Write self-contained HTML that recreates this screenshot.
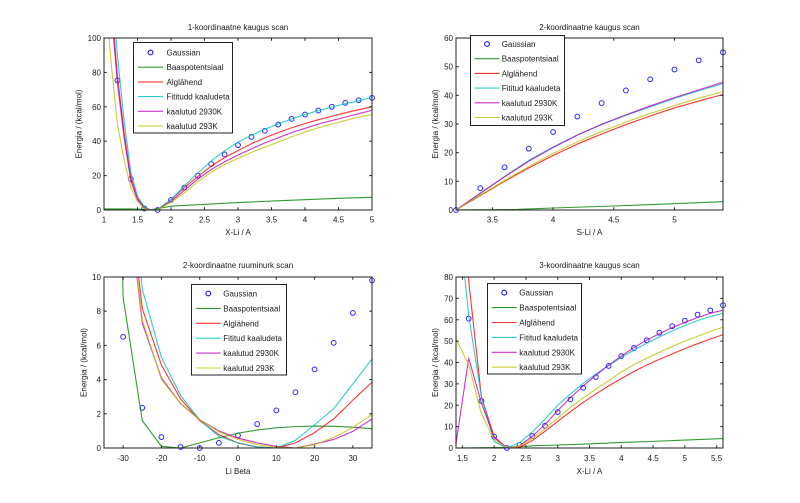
<!DOCTYPE html>
<html><head><meta charset="utf-8">
<style>
html,body{margin:0;padding:0;background:#fff;}
svg{display:block;}
text{font-family:"Liberation Sans",Arial,sans-serif;font-size:8px;fill:#1a1a1a;}
</style></head>
<body>
<svg id="s" width="800" height="503" viewBox="0 0 800 503" xmlns="http://www.w3.org/2000/svg">
<defs>
<clipPath id="c1"><rect x="104" y="38" width="268" height="172"/></clipPath>
<clipPath id="c2"><rect x="456" y="38" width="267" height="172"/></clipPath>
<clipPath id="c3"><rect x="104" y="277" width="268" height="171"/></clipPath>
<clipPath id="c4"><rect x="456" y="277" width="267" height="171"/></clipPath>
</defs>
<rect x="0" y="0" width="800" height="503" fill="#fff"/>
<g id="data"></g>

<!-- Plot 1 text -->
<text x="238" y="30" text-anchor="middle">1-koordinaatne kaugus scan</text>
<text x="238" y="235" text-anchor="middle">X-Li / A</text>
<text transform="translate(81.5,124) rotate(-90)" text-anchor="middle">Energia / (kcal/mol)</text>
<g text-anchor="middle">
<text x="104" y="222.5">1</text><text x="137.5" y="222.5">1.5</text><text x="171" y="222.5">2</text><text x="204.5" y="222.5">2.5</text><text x="238" y="222.5">3</text><text x="271.5" y="222.5">3.5</text><text x="305" y="222.5">4</text><text x="338.5" y="222.5">4.5</text><text x="372" y="222.5">5</text>
</g>
<g text-anchor="end">
<text x="101" y="213">0</text><text x="101" y="178.6">20</text><text x="101" y="144.2">40</text><text x="101" y="109.8">60</text><text x="101" y="75.4">80</text><text x="101" y="41">100</text>
</g>

<!-- Plot 2 text -->
<text x="589.5" y="30" text-anchor="middle">2-koordinaatne kaugus scan</text>
<text x="589.5" y="235" text-anchor="middle">S-Li / A</text>
<text transform="translate(438,124) rotate(-90)" text-anchor="middle">Energia / (kcal/mol)</text>
<g text-anchor="middle">
<text x="492.4" y="222.5">3.5</text><text x="553.1" y="222.5">4</text><text x="613.8" y="222.5">4.5</text><text x="674.5" y="222.5">5</text>
</g>
<g text-anchor="end">
<text x="453" y="213">0</text><text x="453" y="184.3">10</text><text x="453" y="155.7">20</text><text x="453" y="127">30</text><text x="453" y="98.3">40</text><text x="453" y="69.7">50</text><text x="453" y="41">60</text>
</g>

<!-- Plot 3 text -->
<text x="238" y="268" text-anchor="middle">2-koordinaatne ruuminurk scan</text>
<text x="238" y="474" text-anchor="middle">Li Beta</text>
<text transform="translate(86.5,362.5) rotate(-90)" text-anchor="middle">Energia / (kcal/mol)</text>
<g text-anchor="middle">
<text x="123.1" y="460.8">-30</text><text x="161.4" y="460.8">-20</text><text x="199.7" y="460.8">-10</text><text x="238" y="460.8">0</text><text x="276.3" y="460.8">10</text><text x="314.6" y="460.8">20</text><text x="352.9" y="460.8">30</text>
</g>
<g text-anchor="end">
<text x="101" y="451">0</text><text x="101" y="416.8">2</text><text x="101" y="382.6">4</text><text x="101" y="348.4">6</text><text x="101" y="314.2">8</text><text x="101" y="280">10</text>
</g>

<!-- Plot 4 text -->
<text x="589.5" y="268" text-anchor="middle">3-koordinaatne kaugus scan</text>
<text x="589.5" y="474" text-anchor="middle">X-Li / A</text>
<text transform="translate(438,362.5) rotate(-90)" text-anchor="middle">Energia / (kcal/mol)</text>
<g text-anchor="middle">
<text x="462.4" y="460.8">1.5</text><text x="494.1" y="460.8">2</text><text x="525.9" y="460.8">2.5</text><text x="557.7" y="460.8">3</text><text x="589.5" y="460.8">3.5</text><text x="621.3" y="460.8">4</text><text x="653.1" y="460.8">4.5</text><text x="684.9" y="460.8">5</text><text x="716.6" y="460.8">5.5</text>
</g>
<g text-anchor="end">
<text x="453" y="451">0</text><text x="453" y="429.6">10</text><text x="453" y="408.3">20</text><text x="453" y="386.9">30</text><text x="453" y="365.5">40</text><text x="453" y="344.1">50</text><text x="453" y="322.8">60</text><text x="453" y="301.4">70</text><text x="453" y="280">80</text>
</g>

<!-- Legends -->
<g id="leg1">
<rect x="133.5" y="42.5" width="99" height="90.5" fill="#fff" stroke="#222" stroke-width="1"/>
<circle cx="150.5" cy="52.5" r="2.4" fill="none" stroke="#0000ff" stroke-width="1"/>
<line x1="138" y1="67.2" x2="163" y2="67.2" stroke="#008000" stroke-width="1.1" stroke-opacity="0.8"/>
<line x1="138" y1="81.9" x2="163" y2="81.9" stroke="#ff0000" stroke-width="1.1" stroke-opacity="0.8"/>
<line x1="138" y1="96.6" x2="163" y2="96.6" stroke="#00bfbf" stroke-width="1.1" stroke-opacity="0.8"/>
<line x1="138" y1="111.3" x2="163" y2="111.3" stroke="#bf00bf" stroke-width="1.1" stroke-opacity="0.8"/>
<line x1="138" y1="126" x2="163" y2="126" stroke="#bfbf00" stroke-width="1.1" stroke-opacity="0.8"/>
<text x="166.5" y="55.5">Gaussian</text>
<text x="166.5" y="70.2">Baaspotentsiaal</text>
<text x="166.5" y="84.9">Alglähend</text>
<text x="166.5" y="99.6">Fititudd kaaludeta</text>
<text x="166.5" y="114.3">kaalutud 2930K</text>
<text x="166.5" y="129">kaalutud 293K</text>
</g>
<g id="leg2">
<rect x="470.5" y="35.5" width="94" height="90" fill="#fff" stroke="#222" stroke-width="1"/>
<circle cx="487" cy="44" r="2.4" fill="none" stroke="#0000ff" stroke-width="1"/>
<line x1="474.5" y1="58.7" x2="499.5" y2="58.7" stroke="#008000" stroke-width="1.1" stroke-opacity="0.8"/>
<line x1="474.5" y1="73.4" x2="499.5" y2="73.4" stroke="#ff0000" stroke-width="1.1" stroke-opacity="0.8"/>
<line x1="474.5" y1="88.1" x2="499.5" y2="88.1" stroke="#00bfbf" stroke-width="1.1" stroke-opacity="0.8"/>
<line x1="474.5" y1="102.8" x2="499.5" y2="102.8" stroke="#bf00bf" stroke-width="1.1" stroke-opacity="0.8"/>
<line x1="474.5" y1="117.5" x2="499.5" y2="117.5" stroke="#bfbf00" stroke-width="1.1" stroke-opacity="0.8"/>
<text x="501.7" y="47">Gaussian</text>
<text x="501.7" y="61.7">Baaspotentsiaal</text>
<text x="501.7" y="76.4">Alglähend</text>
<text x="501.7" y="91.1">Fititud kaaludeta</text>
<text x="501.7" y="105.8">kaalutud 2930K</text>
<text x="501.7" y="120.5">kaalutud 293K</text>
</g>
<g id="leg3">
<rect x="191.5" y="284.5" width="95" height="90.5" fill="#fff" stroke="#222" stroke-width="1"/>
<circle cx="208.3" cy="293.5" r="2.4" fill="none" stroke="#0000ff" stroke-width="1"/>
<line x1="196" y1="308.4" x2="220.7" y2="308.4" stroke="#008000" stroke-width="1.1" stroke-opacity="0.8"/>
<line x1="196" y1="323.3" x2="220.7" y2="323.3" stroke="#ff0000" stroke-width="1.1" stroke-opacity="0.8"/>
<line x1="196" y1="338.2" x2="220.7" y2="338.2" stroke="#00bfbf" stroke-width="1.1" stroke-opacity="0.8"/>
<line x1="196" y1="353.1" x2="220.7" y2="353.1" stroke="#bf00bf" stroke-width="1.1" stroke-opacity="0.8"/>
<line x1="196" y1="368" x2="220.7" y2="368" stroke="#bfbf00" stroke-width="1.1" stroke-opacity="0.8"/>
<text x="223.3" y="296.5">Gaussian</text>
<text x="223.3" y="311.4">Baaspotentsiaal</text>
<text x="223.3" y="326.3">Alglähend</text>
<text x="223.3" y="341.2">Fititud kaaludeta</text>
<text x="223.3" y="356.1">kaalutud 2930K</text>
<text x="223.3" y="371">kaalutud 293K</text>
</g>
<g id="leg4">
<rect x="487.5" y="283.5" width="94" height="90.5" fill="#fff" stroke="#222" stroke-width="1"/>
<circle cx="504.2" cy="292.7" r="2.4" fill="none" stroke="#0000ff" stroke-width="1"/>
<line x1="491.7" y1="307.6" x2="516.7" y2="307.6" stroke="#008000" stroke-width="1.1" stroke-opacity="0.8"/>
<line x1="491.7" y1="322.5" x2="516.7" y2="322.5" stroke="#ff0000" stroke-width="1.1" stroke-opacity="0.8"/>
<line x1="491.7" y1="337.4" x2="516.7" y2="337.4" stroke="#00bfbf" stroke-width="1.1" stroke-opacity="0.8"/>
<line x1="491.7" y1="352.3" x2="516.7" y2="352.3" stroke="#bf00bf" stroke-width="1.1" stroke-opacity="0.8"/>
<line x1="491.7" y1="367.2" x2="516.7" y2="367.2" stroke="#bfbf00" stroke-width="1.1" stroke-opacity="0.8"/>
<text x="519.3" y="295.7">Gaussian</text>
<text x="519.3" y="310.6">Baaspotentsiaal</text>
<text x="519.3" y="325.5">Alglähend</text>
<text x="519.3" y="340.4">Fititud kaaludeta</text>
<text x="519.3" y="355.3">kaalutud 2930K</text>
<text x="519.3" y="370.2">kaalutud 293K</text>
</g>
</svg>
<script>
(function(){
var NS="http://www.w3.org/2000/svg";
var svg=document.getElementById('s');
var dataG=document.getElementById('data');
function el(tag,attrs,parent){var e=document.createElementNS(NS,tag);for(var k in attrs)e.setAttribute(k,attrs[k]);parent.appendChild(e);return e;}
var COL={g:'#008000',r:'#ff0000',c:'#00bfbf',m:'#bf00bf',y:'#bfbf00',b:'#0000ff'};

var axesList=[
{L:104,T:38,W:268,H:172,x0:1,x1:5,y0:0,y1:100,clip:'c1',
 xt:[1,1.5,2,2.5,3,3.5,4,4.5,5],yt:[0,20,40,60,80,100],
 gauss:[[1.2,75.4],[1.4,18],[1.6,0.9],[1.8,0],[2.0,5.8],[2.2,13],[2.4,20],[2.6,26.7],[2.8,32.3],[3.0,37.7],[3.2,42.5],[3.4,46],[3.6,49.7],[3.8,53],[4.0,55.5],[4.2,57.8],[4.4,60],[4.6,62.3],[4.8,63.8],[5.0,65.2]],
 lines:[
 ['g',[[1,0.6],[1.4,0.6],[1.6,0.3],[1.7,0.2],[1.8,0.8],[2,2.2],[2.5,3.3],[3,4.3],[3.5,5.2],[4,6],[4.5,6.8],[5,7.4]]],
 ['r',[[1.0,190],[1.1,125],[1.2,78],[1.3,45],[1.4,19],[1.5,7],[1.6,1.5],[1.7,0],[1.8,0.2],[2.0,6],[2.2,13],[2.4,19.5],[2.6,25.5],[2.8,30.5],[3.0,34.5],[3.2,38.5],[3.4,42],[3.6,45],[3.8,47.8],[4.0,50.3],[4.2,52.5],[4.4,54.5],[4.6,56.5],[4.8,58.3],[5.0,60]]],
 ['c',[[1.0,200],[1.1,140],[1.2,90],[1.3,52],[1.4,22],[1.5,8],[1.6,2],[1.7,0],[1.8,0.3],[2.0,6],[2.2,14],[2.4,21.5],[2.6,28.5],[2.8,34.5],[3.0,39.5],[3.2,43.5],[3.4,47],[3.6,50],[3.8,53],[4.0,55.5],[4.2,57.8],[4.4,59.8],[4.6,61.8],[4.8,63.5],[5.0,65.5]]],
 ['m',[[1.0,185],[1.1,120],[1.2,74],[1.3,42],[1.4,17],[1.5,6],[1.6,1],[1.7,0],[1.8,0],[2.0,5],[2.2,11.5],[2.4,18],[2.6,23.5],[2.8,28],[3.0,32],[3.2,35.5],[3.4,39],[3.6,42],[3.8,45],[4.0,47.5],[4.2,50],[4.4,52],[4.6,54],[4.8,56],[5.0,58]]],
 ['y',[[1.0,140],[1.1,88],[1.2,50],[1.3,29],[1.4,13],[1.5,5],[1.6,0.8],[1.7,0],[1.8,0],[2.0,4.5],[2.2,10],[2.4,16.5],[2.6,22],[2.8,26.5],[3.0,30],[3.2,33.5],[3.4,36.5],[3.6,39.5],[3.8,42.5],[4.0,45.3],[4.2,47.8],[4.4,50],[4.6,52],[4.8,54],[5.0,55.5]]]
 ]},
{L:456,T:38,W:267,H:172,x0:3.2,x1:5.4,y0:0,y1:60,clip:'c2',
 xt:[3.5,4,4.5,5],yt:[0,10,20,30,40,50,60],
 gauss:[[3.2,0],[3.4,7.6],[3.6,14.9],[3.8,21.4],[4.0,27.2],[4.2,32.6],[4.4,37.3],[4.6,41.7],[4.8,45.6],[5.0,49],[5.2,52.2],[5.4,55]],
 lines:[
 ['g',[[3.2,0],[3.3,0.05],[3.7,0.2],[4.0,0.7],[4.5,1.4],[5.0,2.2],[5.4,2.9]]],
 ['r',[[3.2,0],[3.4,5],[3.6,10],[3.8,14.7],[4.0,19],[4.2,23],[4.4,26.5],[4.6,29.8],[4.8,32.8],[5.0,35.6],[5.2,38],[5.4,40.3]]],
 ['c',[[3.2,0],[3.4,5.7],[3.6,11.7],[3.8,17.3],[4.0,22],[4.2,26.2],[4.4,29.8],[4.6,33],[4.8,36],[5.0,38.9],[5.2,41.6],[5.4,44.1]]],
 ['m',[[3.2,0],[3.4,5.9],[3.6,11.6],[3.8,17],[4.0,21.8],[4.2,26.1],[4.4,29.9],[4.6,33.2],[4.8,36.3],[5.0,39.2],[5.2,41.9],[5.4,44.6]]],
 ['y',[[3.2,0],[3.4,5.2],[3.6,10.3],[3.8,15.2],[4.0,19.7],[4.2,23.8],[4.4,27.4],[4.6,30.7],[4.8,33.7],[5.0,36.4],[5.2,39],[5.4,41.3]]]
 ]},
{L:104,T:277,W:268,H:171,x0:-35,x1:35,y0:0,y1:10,clip:'c3',
 xt:[-30,-20,-10,0,10,20,30],yt:[0,2,4,6,8,10],
 gauss:[[-30,6.5],[-25,2.35],[-20,0.64],[-15,0.06],[-10,0],[-5,0.3],[0,0.74],[5,1.4],[10,2.2],[15,3.26],[20,4.6],[25,6.15],[30,7.9],[35,9.8]],
 lines:[
 ['g',[[-35,60],[-30,8.8],[-25,1.6],[-20,0.1],[-15,0],[-10,0.3],[-5,0.6],[0,0.87],[5,1.05],[10,1.18],[15,1.25],[20,1.28],[25,1.27],[30,1.22],[35,1.13]]],
 ['r',[[-30,18],[-25,8.15],[-20,4.85],[-15,2.87],[-10,1.6],[-5,0.78],[0,0.29],[5,0.06],[10,0],[15,0.3],[20,0.9],[25,1.7],[30,2.8],[35,3.85]]],
 ['c',[[-30,20],[-25,9.3],[-20,5.3],[-15,3.07],[-10,1.65],[-5,0.68],[0,0.3],[5,0.06],[10,0],[15,0.45],[20,1.36],[25,2.3],[30,3.75],[35,5.2]]],
 ['m',[[-30,17],[-25,7.3],[-20,4.1],[-15,2.6],[-10,1.65],[-5,1.0],[0,0.58],[5,0.3],[10,0.1],[15,0],[20,0.23],[25,0.5],[30,0.97],[35,1.7]]],
 ['y',[[-30,17],[-25,7.5],[-20,4.0],[-15,2.6],[-10,1.65],[-5,0.95],[0,0.5],[5,0.2],[10,0.05],[15,0],[20,0.2],[25,0.62],[30,1.2],[35,1.97]]]
 ]},
{L:456,T:277,W:267,H:171,x0:1.4,x1:5.6,y0:0,y1:80,clip:'c4',
 xt:[1.5,2,2.5,3,3.5,4,4.5,5,5.5],yt:[0,10,20,30,40,50,60,70,80],
 gauss:[[1.6,60.5],[1.8,22],[2.0,5.3],[2.2,0],[2.4,1.4],[2.6,5.6],[2.8,10.4],[3.0,16.8],[3.2,22.7],[3.4,28.2],[3.6,33.2],[3.8,38.4],[4.0,43],[4.2,46.8],[4.4,50.4],[4.6,53.9],[4.8,57],[5.0,59.6],[5.2,62.4],[5.4,64.4],[5.6,66.8]],
 lines:[
 ['g',[[1.4,0],[2.0,0.2],[2.2,0.3],[2.6,1],[3,1.4],[3.5,1.9],[4,2.6],[4.5,3.1],[5,3.7],[5.6,4.4]]],
 ['r',[[1.4,300],[1.6,78],[1.8,24],[2.0,5.3],[2.2,0],[2.4,0.3],[2.6,3.5],[2.8,7.8],[3.0,12.5],[3.2,17],[3.4,21.3],[3.6,25.3],[3.8,29],[4.0,32.5],[4.2,35.8],[4.4,38.8],[4.6,41.5],[4.8,44],[5.0,46.5],[5.2,48.8],[5.4,51],[5.6,53]]],
 ['c',[[1.4,120],[1.6,62],[1.8,24],[2.0,3],[2.2,0],[2.4,2.5],[2.6,7.5],[2.8,13.5],[3.0,20],[3.2,25.3],[3.4,30.2],[3.6,34.6],[3.8,38.6],[4.0,42.3],[4.2,45.8],[4.4,49],[4.6,52],[4.8,54.8],[5.0,57.3],[5.2,59.6],[5.4,61.5],[5.6,63]]],
 ['m',[[1.4,2],[1.6,42],[1.8,21],[2.0,5],[2.2,0],[2.4,1],[2.6,5.5],[2.8,11],[3.0,17.5],[3.2,23.5],[3.4,29],[3.6,34],[3.8,38.8],[4.0,43],[4.2,47],[4.4,50.5],[4.6,53.5],[4.8,56.3],[5.0,58.8],[5.2,61],[5.4,63],[5.6,64.5]]],
 ['y',[[1.4,51],[1.6,39],[1.8,16],[2.0,4],[2.2,0],[2.4,0.8],[2.6,4.5],[2.8,9],[3.0,14],[3.2,19],[3.4,23.5],[3.6,27.5],[3.8,31.5],[4.0,35.5],[4.2,39],[4.4,42],[4.6,44.8],[4.8,47.5],[5.0,50],[5.2,52.3],[5.4,54.5],[5.6,56.5]]]
 ]}
];

axesList.forEach(function(ax){
  var X=function(v){return ax.L+(v-ax.x0)/(ax.x1-ax.x0)*ax.W;};
  var Y=function(v){return ax.T+ax.H-(v-ax.y0)/(ax.y1-ax.y0)*ax.H;};
  var g=el('g',{},dataG);
  // gaussian circles first
  ax.gauss.forEach(function(p){
    if(p[1]>ax.y1+0.5||p[1]<ax.y0-0.5)return;
    el('circle',{cx:X(p[0]).toFixed(2),cy:Y(p[1]).toFixed(2),r:2.4,fill:'none',stroke:COL.b,'stroke-width':1,'stroke-opacity':0.85},g);
  });
  var gl=el('g',{'clip-path':'url(#'+ax.clip+')'},g);
  ax.lines.forEach(function(s){
    var pts=s[1].map(function(p){return X(p[0]).toFixed(2)+','+Y(p[1]).toFixed(2);}).join(' ');
    el('polyline',{points:pts,fill:'none',stroke:COL[s[0]],'stroke-width':1.1,'stroke-opacity':0.8,'stroke-linejoin':'round'},gl);
  });
  // axes box
  el('rect',{x:ax.L,y:ax.T,width:ax.W,height:ax.H,fill:'none',stroke:'#222','stroke-width':1},g);
  var tl=2.7;
  ax.xt.forEach(function(v){
    var x=X(v);
    el('line',{x1:x,y1:ax.T+ax.H,x2:x,y2:ax.T+ax.H-tl,stroke:'#222','stroke-width':1},g);
    el('line',{x1:x,y1:ax.T,x2:x,y2:ax.T+tl,stroke:'#222','stroke-width':1},g);
  });
  ax.yt.forEach(function(v){
    var y=Y(v);
    el('line',{x1:ax.L,y1:y,x2:ax.L+tl,y2:y,stroke:'#222','stroke-width':1},g);
    el('line',{x1:ax.L+ax.W,y1:y,x2:ax.L+ax.W-tl,y2:y,stroke:'#222','stroke-width':1},g);
  });
});
})();
</script>
</body></html>
